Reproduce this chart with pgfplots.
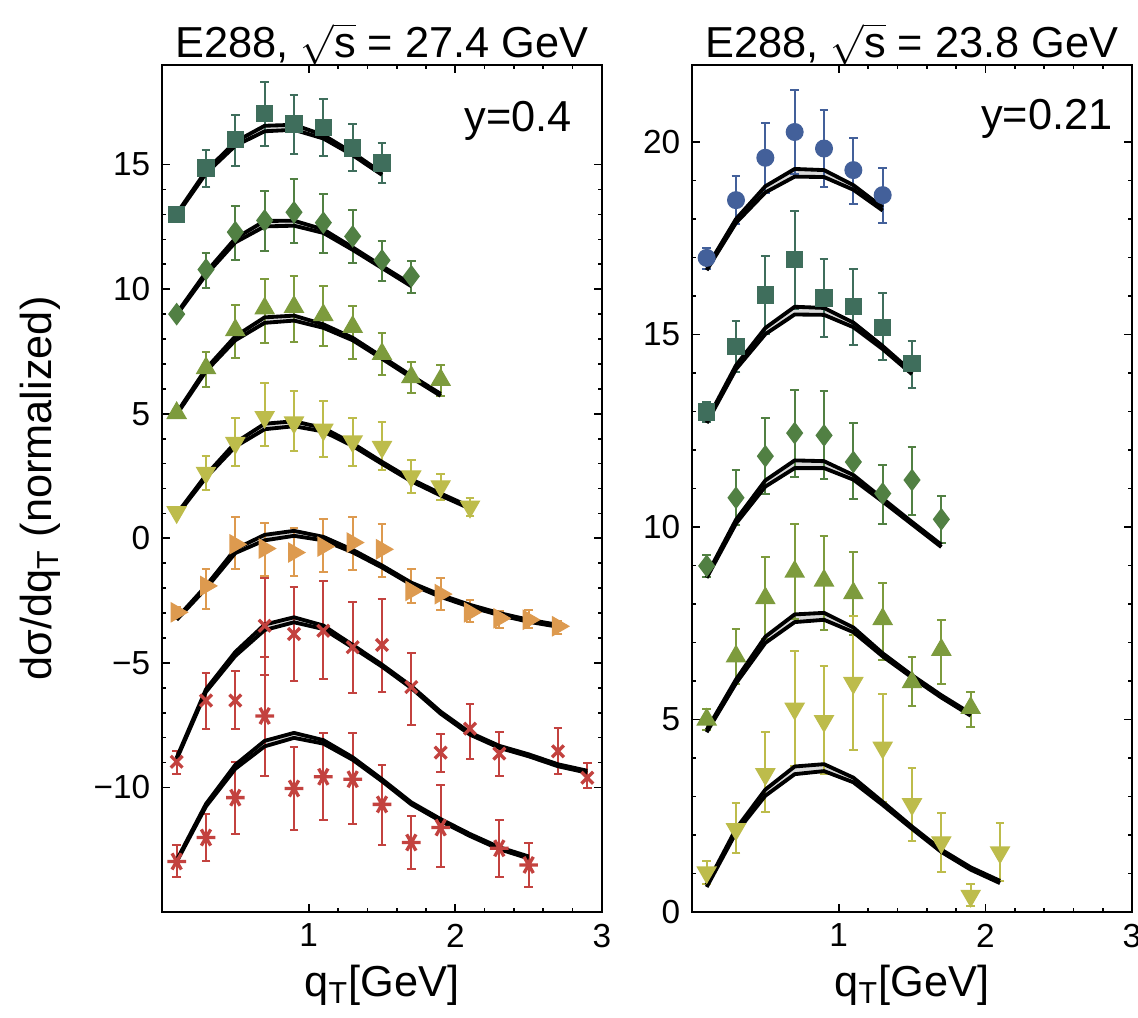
\documentclass[border=0pt]{standalone}
\usepackage{fontspec}
\setmainfont{Liberation Sans}
\usepackage{pgfplots}
\usepackage{pgfplotstable}
\pgfplotsset{compat=1.18}
\usepgfplotslibrary{fillbetween}

\definecolor{csq}{HTML}{3F6E5C}
\definecolor{cdi}{HTML}{518043}
\definecolor{ctu}{HTML}{7D9B3D}
\definecolor{ctd}{HTML}{BDBC4B}
\definecolor{ctr}{HTML}{DD9A4F}
\definecolor{cred}{HTML}{C3423F}
\definecolor{cblu}{HTML}{43609A}

% ---- data, left panel (sqrt s = 27.4 GeV) ----
\pgfplotstableread{
x y ep em
0.1 13.00 0.15 0.15
0.3 14.87 0.72 0.75
0.5 16.00 1.00 1.04
0.7 17.05 1.27 1.29
0.9 16.63 1.16 1.20
1.1 16.49 1.16 1.16
1.3 15.67 0.96 0.94
1.5 15.07 0.80 0.82
}\LA
\pgfplotstableread{
x y ep em
0.1 9.00 0.12 0.12
0.3 10.79 0.68 0.74
0.5 12.29 1.07 1.10
0.7 12.76 1.20 1.23
0.9 13.09 1.34 1.24
1.1 12.67 1.16 1.20
1.3 12.12 1.04 1.05
1.5 11.16 0.76 0.83
1.7 10.52 0.61 0.69
}\LB
\pgfplotstableread{
x y ep em
0.1 5.03 0.12 0.12
0.3 6.83 0.66 0.76
0.5 8.36 1.00 1.13
0.7 9.23 1.17 1.38
0.9 9.29 1.23 1.40
1.1 8.96 1.16 1.24
1.3 8.49 0.84 1.30
1.5 7.40 0.83 0.84
1.7 6.47 0.60 0.64
1.9 6.36 0.60 0.64
}\LC
\pgfplotstableread{
x y ep em
0.1 1.05 0.12 0.12
0.3 2.63 0.66 0.70
0.5 3.83 1.02 0.94
0.7 4.87 1.36 1.18
0.9 4.65 1.27 1.16
1.1 4.36 1.16 1.09
1.3 3.89 0.96 1.00
1.5 3.67 0.98 0.94
1.7 2.49 0.67 0.69
1.9 2.09 0.51 0.56
2.1 1.27 0.36 0.38
}\LD
\pgfplotstableread{
x y ep em
0.1 -2.97 0.20 0.20
0.3 -1.91 0.67 0.93
0.5 -0.24 1.11 1.00
0.7 -0.41 1.01 1.10
0.9 -0.57 0.97 0.96
1.1 -0.33 1.09 1.02
1.3 -0.17 1.04 1.10
1.5 -0.44 1.00 1.13
1.7 -2.11 0.87 0.49
1.9 -2.24 0.63 0.63
2.1 -2.97 0.50 0.38
2.3 -3.21 0.30 0.40
2.5 -3.27 0.40 0.34
2.7 -3.53 0.23 0.30
}\LE
\pgfplotstableread{
x y ep em
0.1 -8.97 0.42 0.47
0.3 -6.51 1.10 1.16
0.5 -6.51 1.18 1.16
0.7 -3.51 1.90 1.97
0.9 -3.84 1.89 1.87
1.1 -3.71 1.98 1.93
1.3 -4.37 1.80 1.83
1.5 -4.28 1.84 1.89
1.7 -5.97 1.36 1.54
1.9 -8.60 0.76 0.77
2.1 -7.64 1.00 1.20
2.3 -8.64 0.87 0.89
2.7 -8.55 0.94 0.89
2.9 -9.61 0.61 0.40
}\LF
\pgfplotstableread{
x y ep em
0.1 -12.97 0.64 0.64
0.3 -12.01 0.93 0.94
0.5 -10.41 1.44 1.46
0.7 -7.13 2.38 2.40
0.9 -10.04 1.67 1.67
1.1 -9.57 1.77 1.74
1.3 -9.67 1.87 1.81
1.5 -10.68 1.60 1.63
1.7 -12.21 1.08 1.07
1.9 -11.61 1.70 1.59
2.3 -12.44 1.13 1.17
2.5 -13.11 0.90 0.89
}\LG

% ---- theory bands, left panel ----
\pgfplotstableread{
x lo hi
0.1 12.97 13.03
0.3 14.65 14.75
0.5 15.76 15.92
0.7 16.34 16.56
0.9 16.40 16.60
1.1 16.05 16.19
1.3 15.38 15.48
1.5 14.59 14.67
}\TA
\pgfplotstableread{
x lo hi
0.1 8.97 9.03
0.3 10.58 10.68
0.5 11.88 12.04
0.7 12.52 12.74
0.9 12.55 12.75
1.1 12.26 12.40
1.3 11.58 11.68
1.5 10.85 10.93
1.7 10.12 10.20
}\TB
\pgfplotstableread{
x lo hi
0.1 4.97 5.03
0.3 6.71 6.81
0.5 7.95 8.11
0.7 8.65 8.87
0.9 8.74 8.94
1.1 8.45 8.59
1.3 7.95 8.05
1.5 7.21 7.29
1.7 6.45 6.53
1.9 5.72 5.80
}\TC
\pgfplotstableread{
x lo hi
0.1 0.92 0.98
0.3 2.44 2.54
0.5 3.68 3.84
0.7 4.38 4.60
0.9 4.50 4.70
1.1 4.29 4.43
1.3 3.71 3.81
1.5 2.99 3.07
1.7 2.29 2.37
1.9 1.72 1.80
2.1 1.19 1.27
}\TD
\pgfplotstableread{
x lo hi
0.1 -3.27 -3.21
0.3 -2.01 -1.91
0.5 -0.59 -0.43
0.7 -0.08 0.14
0.9 0.10 0.30
1.1 -0.08 0.06
1.3 -0.56 -0.46
1.5 -1.17 -1.09
1.7 -1.86 -1.78
1.9 -2.35 -2.27
2.1 -2.75 -2.67
2.3 -3.08 -3.00
2.5 -3.35 -3.27
2.7 -3.55 -3.47
}\TE
\pgfplotstableread{
x lo hi
0.1 -8.87 -8.81
0.3 -6.16 -6.06
0.5 -4.72 -4.56
0.7 -3.68 -3.46
0.9 -3.37 -3.17
1.1 -3.64 -3.50
1.3 -4.38 -4.28
1.5 -5.15 -5.07
1.7 -6.01 -5.93
1.9 -7.04 -6.96
2.1 -7.88 -7.80
2.3 -8.41 -8.33
2.5 -8.75 -8.67
2.7 -9.15 -9.07
2.9 -9.41 -9.33
}\TF
\pgfplotstableread{
x lo hi
0.1 -12.98 -12.92
0.3 -10.76 -10.66
0.5 -9.25 -9.09
0.7 -8.35 -8.13
0.9 -8.01 -7.81
1.1 -8.24 -8.10
1.3 -8.89 -8.79
1.5 -9.75 -9.67
1.7 -10.68 -10.60
1.9 -11.35 -11.27
2.1 -11.95 -11.87
2.3 -12.48 -12.40
2.5 -12.85 -12.77
}\TG

% ---- data, right panel (sqrt s = 23.8 GeV) ----
\pgfplotstableread{
x y ep em
0.1 16.99 0.26 0.29
0.3 18.49 0.63 0.63
0.5 19.59 0.91 0.91
0.7 20.26 1.08 1.08
0.9 19.83 0.99 1.00
1.1 19.27 0.84 0.88
1.3 18.62 0.71 0.73
}\RA
\pgfplotstableread{
x y ep em
0.1 12.99 0.26 0.26
0.3 14.69 0.67 0.67
0.5 16.03 1.02 1.02
0.7 16.94 1.27 1.27
0.9 15.95 1.01 1.02
1.1 15.73 0.97 1.00
1.3 15.19 0.88 0.85
1.5 14.24 0.60 0.62
}\RB
\pgfplotstableread{
x y ep em
0.1 8.99 0.28 0.28
0.3 10.76 0.72 0.72
0.5 11.84 0.99 0.99
0.7 12.44 1.13 1.15
0.9 12.38 1.14 1.14
1.1 11.69 1.00 0.97
1.3 10.87 0.75 0.79
1.5 11.22 0.86 0.91
1.7 10.20 0.61 0.61
}\RC
\pgfplotstableread{
x y ep em
0.1 5.00 0.28 0.28
0.3 6.64 0.71 0.71
0.5 8.15 1.06 1.06
0.7 8.84 1.23 1.23
0.9 8.61 1.16 1.28
1.1 8.28 1.08 1.08
1.3 7.61 0.93 1.06
1.5 5.97 0.65 0.61
1.7 6.81 0.78 0.90
1.9 5.30 0.42 0.50
}\RD
\pgfplotstableread{
x y ep em
0.1 1.03 0.30 0.30
0.3 2.15 0.67 0.63
0.5 3.58 1.09 0.97
0.7 5.28 1.51 1.49
0.9 4.96 1.42 1.38
1.1 5.95 1.74 1.75
1.3 4.27 1.40 1.40
1.5 2.80 0.95 0.95
1.7 1.81 0.75 0.77
1.9 0.42 0.31 0.26
2.1 1.55 0.75 0.75
}\RE

% ---- theory bands, right panel ----
\pgfplotstableread{
x lo hi
0.1 16.67 16.73
0.3 17.90 18.00
0.5 18.69 18.85
0.7 19.10 19.30
0.9 19.09 19.27
1.1 18.76 18.88
1.3 18.22 18.30
}\SA
\pgfplotstableread{
x lo hi
0.1 12.70 12.76
0.3 14.10 14.20
0.5 15.01 15.17
0.7 15.52 15.72
0.9 15.51 15.69
1.1 15.19 15.31
1.3 14.62 14.70
1.5 13.97 14.03
}\SB
\pgfplotstableread{
x lo hi
0.1 8.68 8.74
0.3 10.09 10.19
0.5 11.05 11.21
0.7 11.53 11.73
0.9 11.53 11.71
1.1 11.23 11.35
1.3 10.66 10.74
1.5 10.07 10.13
1.7 9.48 9.54
}\SC
\pgfplotstableread{
x lo hi
0.1 4.67 4.73
0.3 5.94 6.04
0.5 6.99 7.15
0.7 7.53 7.73
0.9 7.59 7.77
1.1 7.27 7.39
1.3 6.64 6.72
1.5 6.09 6.15
1.7 5.57 5.63
1.9 5.10 5.16
}\SD
\pgfplotstableread{
x lo hi
0.1 0.65 0.71
0.3 2.06 2.16
0.5 3.02 3.18
0.7 3.58 3.78
0.9 3.66 3.84
1.1 3.37 3.49
1.3 2.78 2.86
1.5 2.16 2.22
1.7 1.56 1.62
1.9 1.10 1.16
2.1 0.75 0.81
}\SE

\pgfplotsset{
  panel/.style={
    width=132pt, height=254.1pt, scale only axis,
    xmin=0, xmax=3, xtick={1,2,3},
    minor x tick num=4, minor y tick num=4,
    tick align=inside, major tick length=2.4pt, minor tick length=1.3pt,
    axis line style={line width=0.6pt},
    every tick/.style={black, line width=0.5pt},
    tick label style={font=\fontsize{10}{12}\selectfont},
    /pgf/number format/assume math mode=true,
    label style={font=\fontsize{13}{15}\selectfont},
    set layers,
    xlabel={q\textsubscript{T}[GeV]},
    xlabel style={at={(axis description cs:0.5,-0.086)}, anchor=center},
    title style={font=\fontsize{13}{15}\selectfont, inner sep=0pt, at={(axis description cs:0.5,1)}, anchor=base, yshift=-3.8pt},
  },
  dat/.style={only marks,
    error bars/y dir=both, error bars/y explicit,
    error bars/error bar style={line width=0.6pt},
    error bars/error mark options={rotate=90, line width=0.6pt, mark size=1.3pt}},
}
\newcommand{\band}[2]{%
  \addplot[name path=#2u, black, line width=1.15pt, line join=round] table[x=x,y=hi]{#1};
  \addplot[name path=#2l, black, line width=1.15pt, line join=round] table[x=x,y=lo]{#1};
  \addplot[gray!30] fill between[of=#2u and #2l];
}

\begin{document}
\begin{tikzpicture}
\begin{axis}[panel, at={(0,0)}, anchor=south west,
  ymin=-15, ymax=19, ytick={-10,-5,0,5,10,15},
  yticklabels={−10,−5,0,5,10,15},
  ylabel={dσ/dq\textsubscript{T} (normalized)},
  ylabel style={at={(axis description cs:-0.277,0.5)}, anchor=center},
  title={E288, $\sqrt{\mbox{s}}$ = 27.4 GeV}]
\addplot[dat, color=csq, mark=square*, mark size=2.4pt] table[x=x,y=y,y error plus=ep,y error minus=em]{\LA};
\addplot[dat, color=cdi, mark=diamond*, mark size=3.1pt] table[x=x,y=y,y error plus=ep,y error minus=em]{\LB};
\addplot[dat, color=ctu, mark=triangle*, mark size=3.2pt] table[x=x,y=y,y error plus=ep,y error minus=em]{\LC};
\addplot[dat, color=ctd, mark=triangle*, mark size=3.2pt, mark options={rotate=180}] table[x=x,y=y,y error plus=ep,y error minus=em]{\LD};
\addplot[dat, color=ctr, mark=triangle*, mark size=3.2pt, mark options={rotate=-90}] table[x=x,y=y,y error plus=ep,y error minus=em]{\LE};
\addplot[dat, color=cred, mark=x, mark size=2.5pt, mark options={line width=1pt}] table[x=x,y=y,y error plus=ep,y error minus=em]{\LF};
\addplot[dat, color=cred, mark=asterisk, mark size=2.8pt, mark options={rotate=90, line width=1pt}] table[x=x,y=y,y error plus=ep,y error minus=em]{\LG};
\band{\TA}{a}
\band{\TB}{b}
\band{\TC}{c}
\band{\TD}{d}
\band{\TE}{e}
\band{\TF}{f}
\band{\TG}{g}
\node[font=\fontsize{13}{15}\selectfont] at (axis cs:2.43,16.75) {y=0.4};
\end{axis}

\begin{axis}[panel, at={(159pt,0)}, anchor=south west,
  ymin=0, ymax=22, ytick={0,5,10,15,20},
  title={E288, $\sqrt{\mbox{s}}$ = 23.8 GeV}]
\addplot[dat, color=cblu, mark=*, mark size=2.5pt] table[x=x,y=y,y error plus=ep,y error minus=em]{\RA};
\addplot[dat, color=csq, mark=square*, mark size=2.4pt] table[x=x,y=y,y error plus=ep,y error minus=em]{\RB};
\addplot[dat, color=cdi, mark=diamond*, mark size=3.1pt] table[x=x,y=y,y error plus=ep,y error minus=em]{\RC};
\addplot[dat, color=ctu, mark=triangle*, mark size=3.2pt] table[x=x,y=y,y error plus=ep,y error minus=em]{\RD};
\addplot[dat, color=ctd, mark=triangle*, mark size=3.2pt, mark options={rotate=180}] table[x=x,y=y,y error plus=ep,y error minus=em]{\RE};
\band{\SA}{p}
\band{\SB}{q}
\band{\SC}{r}
\band{\SD}{s}
\band{\SE}{t}
\node[font=\fontsize{13}{15}\selectfont] at (axis cs:2.42,20.6) {y=0.21};
\end{axis}
\pgfresetboundingbox
\useasboundingbox (-48.6pt,-31.5pt) rectangle (292.8pt,273.6pt);
\end{tikzpicture}
\end{document}
